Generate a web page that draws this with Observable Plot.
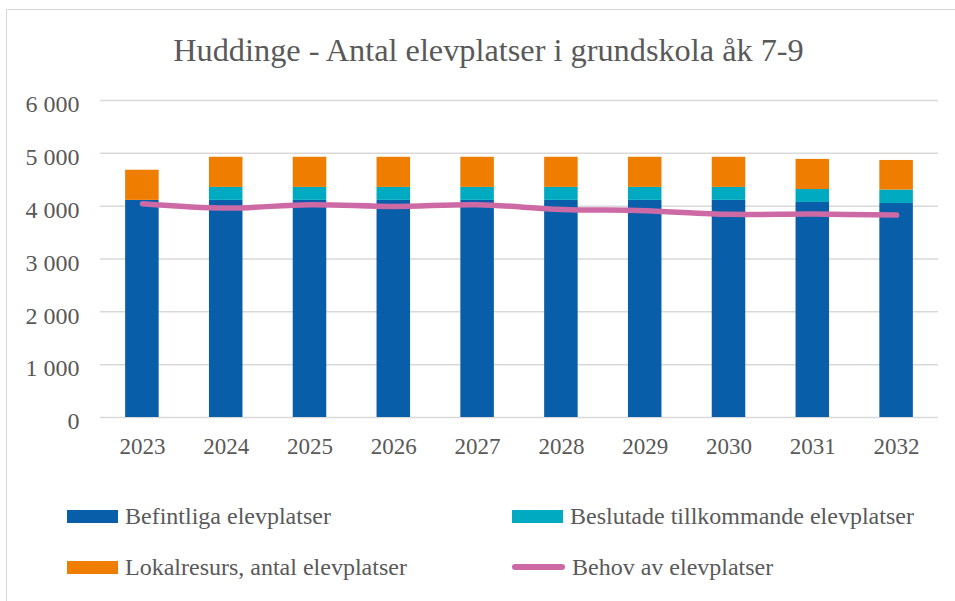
<!DOCTYPE html>
<html>
<head>
<meta charset="utf-8">
<script src="https://cdn.jsdelivr.net/npm/d3@7"></script>
<script src="https://cdn.jsdelivr.net/npm/@observablehq/plot@0.6"></script>
<style>
  html, body { margin:0; padding:0; background:#fff; overflow:hidden; width:955px; height:601px; }
  #wrap { position:relative; width:955px; height:601px; font-family:"Liberation Serif","Times New Roman",serif; color:#595959; }
  #frame { position:absolute; left:6px; top:9px; width:1200px; height:900px; border:1.5px solid #d9d9d9; box-sizing:border-box; }
  #title { position:absolute; left:0; width:977px; top:34px; text-align:center; font-size:32.3px; line-height:32px; white-space:nowrap; }
  #chart { position:absolute; left:0; top:0; }
  .leg { position:absolute; display:flex; align-items:center; height:26px; font-size:24px; white-space:nowrap; }
  .sw { display:inline-block; width:51px; height:13px; margin-right:7px; }
  .ln { display:inline-block; width:53px; height:6px; border-radius:3px; margin-right:7px; }
</style>
</head>
<body>
<div id="wrap">
  <div id="frame"></div>
  <div id="chart"></div>
  <div id="title"></div>
  <div id="legend"></div>
</div>
<script>
const years = ["2023","2024","2025","2026","2027","2028","2029","2030","2031","2032"];
const befintliga = [4110, 4110, 4110, 4110, 4110, 4110, 4110, 4110, 4070, 4050];
const beslutade = [0, 245, 245, 245, 245, 245, 245, 245, 245, 255];
const lokalresurs = [570, 570, 570, 570, 570, 570, 570, 570, 570, 560];
const behov = [4047, 3964, 4028, 3996, 4028, 3939, 3915, 3845, 3850, 3831];
const seriesNames = ["Befintliga elevplatser", "Beslutade tillkommande elevplatser", "Lokalresurs, antal elevplatser", "Behov av elevplatser"];
const seriesColors = ["#095ea9", "#00abc1", "#ef7d00", "#cd6aa6"];
const yTicks = [0, 1000, 2000, 3000, 4000, 5000, 6000];
const titleText = "Huddinge - Antal elevplatser i grundskola åk 7-9";

const stackData = [];
[befintliga, beslutade, lokalresurs].forEach((arr, si) => {
  arr.forEach((v, i) => stackData.push({year: years[i], value: v, series: seriesNames[si]}));
});
const lineData = behov.map((v, i) => ({year: years[i], value: v}));

const fmt = d => d3.format(",")(d).replace(/,/g, "\u00a0");
const font = "'Liberation Serif','Times New Roman',serif";

const chart = Plot.plot({
  width: 955,
  height: 470,
  marginLeft: 100,
  marginRight: 17,
  marginTop: 100,
  marginBottom: 53,
  style: {fontFamily: font, fontSize: "23px", color: "#595959", background: "transparent", overflow: "visible"},
  x: {domain: years, paddingInner: 0.6, paddingOuter: 0.3, round: false, label: null, axis: null},
  y: {domain: [0, 6000], label: null, axis: null},
  color: {domain: seriesNames.slice(0, 3), range: seriesColors.slice(0, 3)},
  marks: [
    Plot.ruleY(yTicks, {stroke: "#d9d9d9", strokeWidth: 1.5}),
    Plot.barY(stackData, {x: "year", y: "value", fill: "series"}),
    Plot.line(lineData, {x: "year", y: "value", stroke: seriesColors[3], strokeWidth: 5.5, strokeLinecap: "round", strokeLinejoin: "round", curve: "catmull-rom"}),
    Plot.axisY({ticks: yTicks, tickFormat: fmt, tickSize: 0, tickPadding: 21, dy: 4, label: null, fill: "#595959", fontSize: 24}),
    Plot.axisX({tickSize: 0, tickPadding: 20, label: null, fill: "#595959", fontSize: 23})
  ]
});
document.getElementById("chart").appendChild(chart);
document.getElementById("title").textContent = titleText;

const legendPos = [
  {x: 67, y: 503, kind: "sw"},
  {x: 512, y: 503, kind: "sw"},
  {x: 67, y: 554, kind: "sw"},
  {x: 512, y: 554, kind: "ln"}
];
const legendOrder = [0, 1, 2, 3];
const leg = document.getElementById("legend");
legendOrder.forEach((si, k) => {
  const p = legendPos[k];
  const d = document.createElement("div");
  d.className = "leg";
  d.style.left = p.x + "px";
  d.style.top = p.y + "px";
  const s = document.createElement("span");
  s.className = p.kind;
  s.style.background = seriesColors[si];
  d.appendChild(s);
  d.appendChild(document.createTextNode(seriesNames[si]));
  leg.appendChild(d);
});
</script>
</body>
</html>
